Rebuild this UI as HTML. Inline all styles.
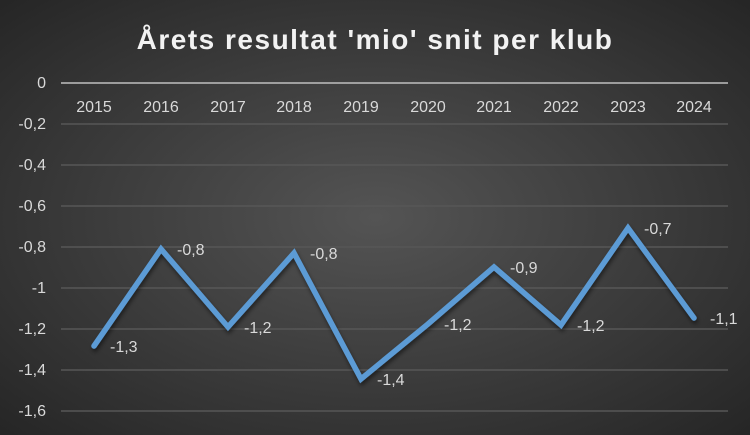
<!DOCTYPE html>
<html><head><style>
html,body{margin:0;padding:0;}
body{width:750px;height:435px;overflow:hidden;background:#333;}
text{font-family:"Liberation Sans",sans-serif;}
</style></head><body>
<svg width="750" height="435" xmlns="http://www.w3.org/2000/svg" style="display:block">
<defs>
<radialGradient id="bg" cx="0.5" cy="0.5" r="0.7">
<stop offset="0" stop-color="#545454"/>
<stop offset="1" stop-color="#262626"/>
</radialGradient>
<filter id="sh" x="-10%" y="-10%" width="120%" height="130%"><feDropShadow dx="1" dy="3" stdDeviation="2" flood-color="#000" flood-opacity="0.5"/></filter>
</defs>
<rect width="750" height="435" fill="url(#bg)"/>
<text x="375" y="49" text-anchor="middle" fill="#f2f2f2" font-size="28" font-weight="bold" letter-spacing="1.5">Årets resultat 'mio' snit per klub</text>
<g stroke="#575757" stroke-width="1.5">
<line x1="61" x2="728" y1="124" y2="124"/><line x1="61" x2="728" y1="165" y2="165"/>
<line x1="61" x2="728" y1="206" y2="206"/><line x1="61" x2="728" y1="247" y2="247"/>
<line x1="61" x2="728" y1="288" y2="288"/><line x1="61" x2="728" y1="329" y2="329"/>
<line x1="61" x2="728" y1="370" y2="370"/><line x1="61" x2="728" y1="411" y2="411"/>
</g>
<line x1="61" x2="728" y1="83" y2="83" stroke="#bfbfbf" stroke-width="1.5"/>
<g fill="#d9d9d9" font-size="16" text-anchor="end">
<text x="46" y="88">0</text><text x="46" y="129">-0,2</text><text x="46" y="170">-0,4</text>
<text x="46" y="211">-0,6</text><text x="46" y="252">-0,8</text><text x="46" y="293">-1</text>
<text x="46" y="334">-1,2</text><text x="46" y="375">-1,4</text><text x="46" y="416">-1,6</text>
</g>
<g fill="#d9d9d9" font-size="16" text-anchor="middle">
<text x="94" y="112">2015</text><text x="161" y="112">2016</text><text x="228" y="112">2017</text>
<text x="294" y="112">2018</text><text x="361" y="112">2019</text><text x="428" y="112">2020</text>
<text x="494" y="112">2021</text><text x="561" y="112">2022</text><text x="628" y="112">2023</text>
<text x="694" y="112">2024</text>
</g>
<polyline filter="url(#sh)" fill="none" stroke="#5b9bd5" stroke-width="5.5" stroke-linejoin="miter" stroke-linecap="round"
points="94,346 161,249 228,327 294,253 361,379 428,324 494,267 561,325 628,228 694,318"/>
<g fill="#d9d9d9" font-size="16">
<text x="110" y="352">-1,3</text><text x="177" y="255">-0,8</text><text x="244" y="333">-1,2</text>
<text x="310" y="259">-0,8</text><text x="377" y="385">-1,4</text><text x="444" y="330">-1,2</text>
<text x="510" y="273">-0,9</text><text x="577" y="331">-1,2</text><text x="644" y="234">-0,7</text>
<text x="710" y="324">-1,1</text>
</g>
</svg>
</body></html>
